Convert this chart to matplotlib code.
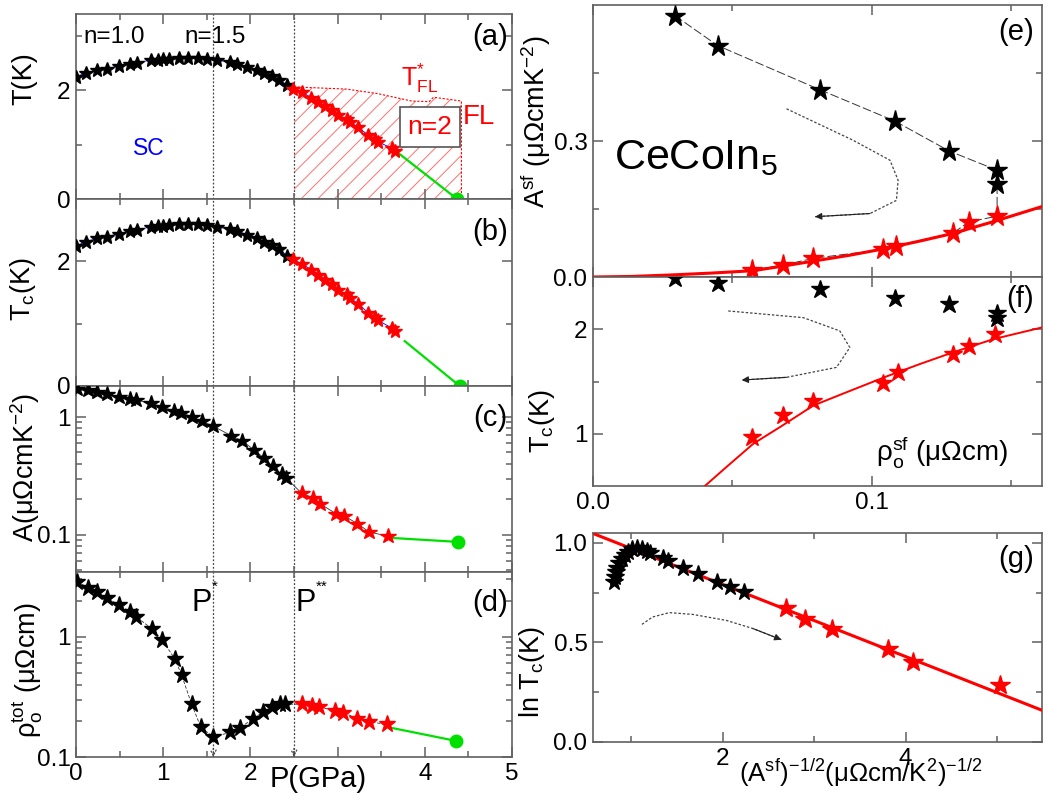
import matplotlib
matplotlib.use("Agg")
import matplotlib.pyplot as plt
import numpy as np
from matplotlib.ticker import FixedLocator, NullFormatter, LogLocator, FormatStrFormatter

plt.rcParams['font.family'] = ['Liberation Sans', 'DejaVu Sans']
plt.rcParams['mathtext.fontset'] = 'custom'
plt.rcParams['mathtext.rm'] = 'Liberation Sans'
plt.rcParams['mathtext.it'] = 'Liberation Sans:italic'
plt.rcParams['mathtext.bf'] = 'Liberation Sans:bold'
plt.rcParams['hatch.linewidth'] = 0.7

# ---------------- data: left column (vs pressure) ----------------
P_tc_black = [0.0, 0.115, 0.245, 0.359, 0.493, 0.619, 0.696, 0.856, 0.944, 1.0, 1.07, 1.18,
              1.28, 1.395, 1.506, 1.613, 1.766, 1.85, 1.957, 2.07, 2.16, 2.244, 2.33, 2.42]
Tc_black = [2.245, 2.318, 2.367, 2.398, 2.446, 2.489, 2.507, 2.55, 2.563, 2.569, 2.58, 2.593,
            2.593, 2.593, 2.575, 2.55, 2.52, 2.49, 2.43, 2.367, 2.31, 2.26, 2.196, 2.092]
P_tc_red = [2.49, 2.59, 2.70, 2.78, 2.855, 2.94, 3.008, 3.104, 3.14, 3.238, 3.352, 3.43,
            3.467, 3.62, 3.658]
Tc_red = [2.03, 1.96, 1.865, 1.786, 1.706, 1.633, 1.541, 1.468, 1.419, 1.315, 1.174, 1.101,
          1.052, 0.93, 0.887]
P_green_a = [3.66, 4.37]
T_green_a = [0.89, 0.0]
P_green_b = [3.77, 4.40]
T_green_b = [0.72, 0.0]

# T*_FL boundary (hatched Fermi-liquid region)
P_fl = [2.50, 3.10, 3.45, 3.85, 4.05, 4.10, 4.42, 4.42]
T_fl = [2.06, 2.02, 1.94, 1.80, 1.79, 1.87, 1.80, 0.0]

P_A_black = [0.015, 0.141, 0.245, 0.359, 0.497, 0.619, 0.688, 0.856, 0.99, 1.124, 1.204,
             1.326, 1.441, 1.575, 1.778, 1.9, 2.04, 2.16, 2.255, 2.36, 2.404]
A_black = [1.75, 1.69, 1.64, 1.56, 1.48, 1.44, 1.39, 1.32, 1.22, 1.126, 1.09, 1.01, 0.924,
           0.837, 0.696, 0.631, 0.528, 0.445, 0.380, 0.327, 0.306]
P_A_red = [2.588, 2.714, 2.798, 2.98, 3.077, 3.226, 3.364, 3.582]
A_red = [0.225, 0.206, 0.183, 0.151, 0.144, 0.124, 0.105, 0.0968]
P_A_green = [3.58, 4.38]
A_green = [0.094, 0.0866]

P_rho_black = [0.015, 0.141, 0.245, 0.359, 0.497, 0.619, 0.688, 0.868, 0.99, 1.135, 1.212,
               1.326, 1.433, 1.575, 1.766, 1.881, 2.034, 2.148, 2.244, 2.34, 2.397]
rho_black = [2.87, 2.56, 2.34, 2.09, 1.84, 1.62, 1.47, 1.17, 0.938, 0.652, 0.479, 0.275,
             0.176, 0.147, 0.160, 0.175, 0.209, 0.237, 0.261, 0.275, 0.275]
P_rho_red = [2.588, 2.703, 2.79, 2.97, 3.066, 3.226, 3.364, 3.563]
rho_red = [0.275, 0.266, 0.261, 0.242, 0.234, 0.209, 0.196, 0.187]
P_rho_green = [3.563, 4.36]
rho_green = [0.178, 0.136]

P_star, P_2star = 1.575, 2.5

# ---------------- data: right column ----------------
rho_sf_black = [0.0294, 0.0447, 0.0814, 0.1082, 0.1277, 0.1449, 0.1449]
Asf_black = [0.5765, 0.5105, 0.413, 0.344, 0.278, 0.2355, 0.206]
rho_sf_red = [0.1449, 0.1349, 0.1292, 0.1088, 0.1041, 0.079, 0.0682, 0.0569]
Asf_red = [0.134, 0.122, 0.0975, 0.0689, 0.0609, 0.0411, 0.0264, 0.0154]
fit_e_x = [0.0, 0.0138, 0.0276, 0.042, 0.0575, 0.068, 0.079, 0.092, 0.105, 0.117, 0.129,
           0.1435, 0.1608]
fit_e_y = [0.0, 0.0012, 0.0044, 0.0085, 0.0139, 0.024, 0.035, 0.048, 0.063, 0.079, 0.096,
           0.122, 0.155]
arrow_e_x = [0.0694, 0.0933, 0.1065, 0.1094, 0.1088, 0.0993, 0.0796]
arrow_e_y = [0.371, 0.3015, 0.2575, 0.2135, 0.169, 0.140, 0.133]

rho_f_black = [0.0294, 0.0447, 0.0814, 0.1082, 0.1277, 0.1449, 0.1449]
Tc_f_black = [2.49, 2.444, 2.381, 2.302, 2.238, 2.159, 2.111]
rho_f_red = [0.0569, 0.0682, 0.079, 0.1041, 0.1094, 0.1292, 0.1349, 0.1441]
Tc_f_red = [0.968, 1.175, 1.317, 1.486, 1.587, 1.762, 1.841, 1.952]
fit_f_x = [0.0401, 0.0479, 0.0575, 0.067, 0.079, 0.0909, 0.105, 0.1172, 0.129, 0.1435, 0.1608]
fit_f_y = [0.50, 0.683, 0.905, 1.063, 1.27, 1.397, 1.546, 1.667, 1.778, 1.905, 2.016]
arrow_f_x = [0.0485, 0.0754, 0.0885, 0.0921, 0.0873, 0.0694, 0.0533]
arrow_f_y = [2.175, 2.111, 1.984, 1.825, 1.635, 1.54, 1.514]

x_g_black = [0.812, 0.820, 0.827, 0.842, 0.863, 0.893, 0.929, 0.965, 1.009, 1.057, 1.111,
             1.166, 1.202, 1.348, 1.402, 1.566, 1.730, 1.931, 2.077, 2.233]
y_g_black = [0.806, 0.831, 0.856, 0.876, 0.898, 0.920, 0.940, 0.956, 0.970, 0.977, 0.970,
             0.960, 0.948, 0.923, 0.910, 0.876, 0.842, 0.806, 0.781, 0.755]
x_g_red = [2.695, 2.896, 3.199, 3.81, 4.077, 5.035]
y_g_red = [0.675, 0.616, 0.570, 0.469, 0.402, 0.285]
fit_g_x = [0.603, 5.492]
fit_g_y = [1.0436, 0.159]
arrow_g_x = [1.115, 1.232, 1.415, 1.671, 2.037, 2.329, 2.64]
arrow_g_y = [0.591, 0.628, 0.650, 0.641, 0.611, 0.570, 0.514]

# ---------------- figure ----------------
W, H = 1049, 799
fig = plt.figure(figsize=(W / 100, H / 100), dpi=100)

def ax_px(x0, y0, x1, y1):
    return fig.add_axes([x0 / W, 1 - y1 / H, (x1 - x0) / W, (y1 - y0) / H])

SPINE = '#606060'
TICKFS = 17.5
LABFS = 19.5
PANFS = 21
RED = '#ff0000'
GREEN = '#00e000'

def style(ax):
    for s in ax.spines.values():
        s.set_color(SPINE)
        s.set_linewidth(1.2)
    ax.tick_params(which='both', direction='in', top=True, right=True, colors=SPINE,
                   labelcolor='black', labelsize=TICKFS, width=1.1)
    ax.tick_params(which='major', length=7.5, pad=4)
    ax.tick_params(which='minor', length=4)

axA = ax_px(76, 14, 512, 199)
axB = ax_px(76, 199, 512, 386)
axC = ax_px(76, 386, 512, 572)
axD = ax_px(76, 572, 512, 757)
axE = ax_px(593, 5, 1042, 277)
axF = ax_px(593, 277, 1042, 486)
axG = ax_px(593, 533, 1042, 742)

for ax in (axA, axB, axC, axD):
    style(ax)
    ax.set_xlim(0, 5)
    ax.xaxis.set_major_locator(FixedLocator([0, 1, 2, 3, 4, 5]))
    ax.xaxis.set_minor_locator(FixedLocator([0.5, 1.5, 2.5, 3.5, 4.5]))
    ax.tick_params(axis='x', labelbottom=False)
    for xv in (P_star, P_2star):
        ax.axvline(xv, color='#444444', ls=(0, (1.5, 1.5)), lw=0.9, zorder=1)

sk = dict(marker='*', ls='none', zorder=4)

# (a)
axA.set_ylim(0, 3.4)
axA.yaxis.set_major_locator(FixedLocator([0, 2]))
axA.yaxis.set_minor_locator(FixedLocator([1, 3]))
axA.fill([P_2star] + P_fl + [P_2star], [0] + T_fl + [0], facecolor='none',
         edgecolor='#ff7070', hatch='//', lw=0, zorder=0)
axA.plot(P_fl, T_fl, color=RED, ls=(0, (2, 1.5)), lw=0.8, zorder=2)
axA.plot(P_tc_black + P_tc_red, Tc_black + Tc_red, color='blue', lw=0.6, zorder=3)
axA.plot(P_tc_black, Tc_black, color='black', ms=10.5, **sk)
axA.plot(P_tc_red, Tc_red, color=RED, mec=RED, ms=10.5, **sk)
axA.plot(P_green_a, T_green_a, color=GREEN, lw=1.6, zorder=3)
axA.plot(P_green_a[-1:], T_green_a[-1:], 'o', color=GREEN, ms=9, zorder=5, clip_on=False)
axA.text(0.09, 2.97, 'n=1.0', fontsize=17.5, va='center', ha='left')
axA.text(1.24, 2.97, 'n=1.5', fontsize=17.5, va='center', ha='left')
axA.text(4.95, 2.97, '(a)', fontsize=PANFS, va='center', ha='right')
axA.text(0.83, 0.93, 'SC', fontsize=16.5, color='blue', va='center', ha='center')
axA.text(3.73, 2.22, r'T$^{*}_{\rm FL}$', fontsize=18, color=RED, va='center', ha='left')
axA.text(4.06, 1.33, 'n=2', fontsize=19, color=RED, va='center', ha='center',
         bbox=dict(boxstyle='square,pad=0.3', fc='white', ec='#555555', lw=1.2), zorder=6)
axA.text(4.43, 1.5, 'FL', fontsize=20, color=RED, va='center', ha='left')
axA.set_ylabel('T(K)', fontsize=LABFS)
axA.yaxis.set_label_coords(-0.089, 0.65)

# (b)
axB.set_ylim(0, 3.0)
axB.yaxis.set_major_locator(FixedLocator([0, 2]))
axB.yaxis.set_minor_locator(FixedLocator([1]))
axB.plot(P_tc_black + P_tc_red, Tc_black + Tc_red, color='blue', lw=0.6, zorder=3)
axB.plot(P_tc_black, Tc_black, color='black', ms=10.5, **sk)
axB.plot(P_tc_red, Tc_red, color=RED, mec=RED, ms=10.5, **sk)
axB.plot(P_green_b, T_green_b, color=GREEN, lw=1.6, zorder=3)
axB.plot(P_green_b[-1:], T_green_b[-1:], 'o', color=GREEN, ms=9, zorder=5, clip_on=False)
axB.text(4.95, 2.47, '(b)', fontsize=PANFS, va='center', ha='right')
axB.set_ylabel(r'T$_{\rm c}$(K)', fontsize=LABFS)
axB.yaxis.set_label_coords(-0.087, 0.52)

# (c)
axC.set_yscale('log')
axC.set_ylim(0.048, 1.84)
axC.yaxis.set_major_locator(FixedLocator([0.1, 1]))
axC.yaxis.set_minor_locator(LogLocator(base=10, subs=np.arange(2, 10)))
axC.yaxis.set_minor_formatter(NullFormatter())
axC.set_yticklabels(['0.1', '1'])
axC.plot(P_A_black + P_A_red, A_black + A_red, color='#333333', lw=0.6, zorder=3)
axC.plot(P_A_black, A_black, color='black', ms=11.5, **sk)
axC.plot(P_A_red, A_red, color=RED, mec=RED, ms=11.5, **sk)
axC.plot(P_A_green, A_green, color=GREEN, lw=1.6, zorder=3)
axC.plot(P_A_green[-1:], A_green[-1:], 'o', color=GREEN, ms=9, zorder=5)
axC.text(4.95, 0.98, '(c)', fontsize=PANFS, va='center', ha='right')
axC.set_ylabel(r'A(μΩcmK$^{-2}$)', fontsize=LABFS)
axC.yaxis.set_label_coords(-0.078, 0.56)

# (d)
axD.set_yscale('log')
axD.set_ylim(0.1, 3.46)
axD.yaxis.set_major_locator(FixedLocator([0.1, 1]))
axD.yaxis.set_minor_locator(LogLocator(base=10, subs=np.arange(2, 10)))
axD.yaxis.set_minor_formatter(NullFormatter())
axD.set_yticklabels(['0.1', '1'])
axD.plot(P_rho_black + P_rho_red, rho_black + rho_red, color='#333333', lw=0.6,
         ls=(0, (4, 2)), zorder=3)
axD.plot(P_rho_black, rho_black, color='black', ms=12.5, **sk)
axD.plot(P_rho_red, rho_red, color=RED, mec=RED, ms=12.5, **sk)
axD.plot(P_rho_green, rho_green, color=GREEN, lw=1.6, zorder=3)
axD.plot(P_rho_green[-1:], rho_green[-1:], 'o', color=GREEN, ms=9, zorder=5)
for xv in (P_star, P_2star):
    axD.annotate('', xy=(xv, 0.1), xytext=(xv, 0.118),
                 arrowprops=dict(arrowstyle='->', color='#444444', lw=0.9, ls=':',
                                 shrinkA=0, shrinkB=0))
axD.text(1.32, 1.92, 'P', fontsize=22, va='center', ha='left')
axD.text(1.56, 2.6, '*', fontsize=11, va='center', ha='left')
axD.text(2.52, 1.92, 'P', fontsize=22, va='center', ha='left')
axD.text(2.75, 2.6, '**', fontsize=11, va='center', ha='left')
axD.text(4.95, 1.92, '(d)', fontsize=PANFS, va='center', ha='right')
axD.tick_params(axis='x', labelbottom=True)
axD.set_xticklabels(['0', '1', '2', '', '4', '5'])
axD.set_ylabel(r'ρ$_{\rm o}^{\rm tot}$ (μΩcm)', fontsize=LABFS)
axD.yaxis.set_label_coords(-0.071, 0.47)
fig.text(318 / W, 1 - 779 / H, 'P(GPa)', fontsize=21, ha='center', va='center')

# (e)
for ax in (axE, axF):
    style(ax)
    ax.set_xlim(0, 0.161)
    ax.xaxis.set_major_locator(FixedLocator([0.0, 0.1]))
    ax.xaxis.set_minor_locator(FixedLocator([0.05, 0.15]))
axE.tick_params(axis='x', labelbottom=False)
axE.set_ylim(0, 0.6)
axE.yaxis.set_major_locator(FixedLocator([0.0, 0.3]))
axE.yaxis.set_minor_locator(FixedLocator([0.15, 0.45]))
axE.yaxis.set_major_formatter(FormatStrFormatter('%.1f'))
axE.plot(rho_sf_black + rho_sf_red, Asf_black + Asf_red, color='#333333', lw=0.7,
         ls=(0, (9, 3)), zorder=3)
axE.plot(fit_e_x, fit_e_y, color=RED, lw=2.2, zorder=3)
axE.plot(rho_sf_black, Asf_black, color='black', ms=15.5, **sk)
axE.plot(rho_sf_red, Asf_red, color=RED, mec=RED, ms=15.5, **sk)
axE.plot(arrow_e_x, arrow_e_y, color='#444444', lw=0.9, ls=(0, (2, 1.5)), zorder=2)
axE.annotate('', xy=(arrow_e_x[-1], arrow_e_y[-1]), xytext=(arrow_e_x[-2], arrow_e_y[-2]),
             arrowprops=dict(arrowstyle='-|>', color='#222222', lw=0.8, mutation_scale=10,
                             shrinkA=0, shrinkB=0))
axE.text(0.0075, 0.262, r'CeCoIn$_5$', fontsize=31, va='center', ha='left')
axE.text(0.158, 0.54, '(e)', fontsize=PANFS, va='center', ha='right')
axE.set_ylabel(r'A$^{\rm sf}$ (μΩcmK$^{-2}$)', fontsize=LABFS)
axE.yaxis.set_label_coords(-0.089, 0.57)

# (f)
axF.set_ylim(0.5, 2.5)
axF.yaxis.set_major_locator(FixedLocator([1, 2]))
axF.yaxis.set_minor_locator(FixedLocator([1.5]))
axF.xaxis.set_major_formatter(FormatStrFormatter('%.1f'))
axF.plot(fit_f_x, fit_f_y, color=RED, lw=1.4, zorder=3)
axF.plot(rho_f_black, Tc_f_black, color='black', ms=13.5, **sk)
axF.plot(rho_f_red, Tc_f_red, color=RED, mec=RED, ms=13.5, **sk)
axF.plot(arrow_f_x, arrow_f_y, color='#444444', lw=0.9, ls=(0, (2, 1.5)), zorder=2)
axF.annotate('', xy=(arrow_f_x[-1], arrow_f_y[-1]), xytext=(arrow_f_x[-2], arrow_f_y[-2]),
             arrowprops=dict(arrowstyle='-|>', color='#222222', lw=0.8, mutation_scale=10,
                             shrinkA=0, shrinkB=0))
axF.text(0.158, 2.29, '(f)', fontsize=PANFS, va='center', ha='right')
axF.text(0.1015, 0.83, r'ρ$_{\rm o}^{\rm sf}$ (μΩcm)', fontsize=20, va='center', ha='left')
axF.set_ylabel(r'T$_{\rm c}$(K)', fontsize=LABFS)
axF.yaxis.set_label_coords(-0.08, 0.31)

# (g)
style(axG)
axG.set_xlim(0.58, 5.49)
axG.set_ylim(0, 1.05)
axG.xaxis.set_major_locator(FixedLocator([2, 4]))
axG.xaxis.set_minor_locator(FixedLocator([1, 3, 5]))
axG.yaxis.set_major_locator(FixedLocator([0.0, 0.5, 1.0]))
axG.yaxis.set_minor_locator(FixedLocator([0.25, 0.75]))
axG.yaxis.set_major_formatter(FormatStrFormatter('%.1f'))
axG.plot(fit_g_x, fit_g_y, color=RED, lw=2.2, zorder=3)
axG.plot(x_g_black, y_g_black, color='black', ms=13, **sk)
axG.plot(x_g_red, y_g_red, color=RED, mec=RED, ms=14.5, **sk)
axG.plot(arrow_g_x, arrow_g_y, color='#444444', lw=0.9, ls=(0, (2, 1.5)), zorder=2)
axG.annotate('', xy=(arrow_g_x[-1], arrow_g_y[-1]), xytext=(arrow_g_x[-2], arrow_g_y[-2]),
             arrowprops=dict(arrowstyle='-|>', color='#222222', lw=0.8, mutation_scale=10,
                             shrinkA=0, shrinkB=0))
axG.text(5.4, 0.92, '(g)', fontsize=PANFS, va='center', ha='right')
axG.set_ylabel(r'ln T$_{\rm c}$(K)', fontsize=LABFS)
axG.yaxis.set_label_coords(-0.102, 0.335)
fig.text(861 / W, 1 - 773 / H, r'(A$^{\rm sf}$)$^{-1/2}$(μΩcm/K$^2$)$^{-1/2}$', fontsize=18.5,
         ha='center', va='center')

fig.savefig('out.png', dpi=100)
